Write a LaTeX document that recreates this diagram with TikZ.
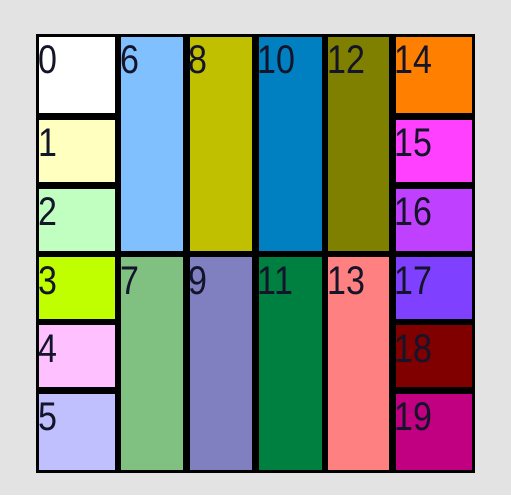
\documentclass[tikz,border=0pt]{standalone}
\usepackage{fontspec}
\setmainfont{Liberation Sans}
\definecolor{bg}{HTML}{E3E3E3}
\definecolor{k0}{HTML}{FFFFFF}
\definecolor{k1}{HTML}{FFFFC0}
\definecolor{k2}{HTML}{C0FFC0}
\definecolor{k3}{HTML}{C0FF00}
\definecolor{k4}{HTML}{FFC0FF}
\definecolor{k5}{HTML}{C0C0FF}
\definecolor{k6}{HTML}{80C0FF}
\definecolor{k7}{HTML}{80C080}
\definecolor{k8}{HTML}{C0C000}
\definecolor{k9}{HTML}{8080C0}
\definecolor{k10}{HTML}{0080C0}
\definecolor{k11}{HTML}{008040}
\definecolor{k12}{HTML}{808000}
\definecolor{k13}{HTML}{FF8080}
\definecolor{k14}{HTML}{FF8000}
\definecolor{k15}{HTML}{FF40FF}
\definecolor{k16}{HTML}{C040FF}
\definecolor{k17}{HTML}{8040FF}
\definecolor{k18}{HTML}{800000}
\definecolor{k19}{HTML}{C00080}
\definecolor{txt}{HTML}{14142A}
\tikzset{
  cellbox/.style={draw=black, line width=3.3pt},
  lbl/.style={anchor=base west, inner sep=0pt, text=txt,
    font=\fontsize{40}{40}\selectfont},
}
\newcommand\mycell[6]{%
  \path[cellbox, fill=k#6] ({#1+1.65},{#2+1.65}) rectangle ({#3-1.65},{#4-1.65});
  \node[lbl] (c#6) at ({#1+2},{#2+40}) {\scalebox{0.85}[1]{#6}};
}
\begin{document}
\begin{tikzpicture}[x=1pt,y=-1pt]
\useasboundingbox (0,0) rectangle (511,495);
\fill[bg] (0,0) rectangle (511,495);
% column A
\mycell{36}{34}{118}{116.5}{}{0}
\mycell{36}{116.5}{118}{185.5}{}{1}
\mycell{36}{185.5}{118}{254}{}{2}
\mycell{36}{254}{118}{322}{}{3}
\mycell{36}{322}{118}{390.5}{}{4}
\mycell{36}{390.5}{118}{473.3}{}{5}
% tall columns
\mycell{118}{34}{186.5}{254}{}{6}
\mycell{118}{254}{186.5}{473.3}{}{7}
\mycell{186.5}{34}{255.5}{254}{}{8}
\mycell{186.5}{254}{255.5}{473.3}{}{9}
\mycell{255.5}{34}{325}{254}{}{10}
\mycell{255.5}{254}{325}{473.3}{}{11}
\mycell{325}{34}{392.5}{254}{}{12}
\mycell{325}{254}{392.5}{473.3}{}{13}
% column F
\mycell{392.5}{34}{475}{116.5}{}{14}
\mycell{392.5}{116.5}{475}{185.5}{}{15}
\mycell{392.5}{185.5}{475}{254}{}{16}
\mycell{392.5}{254}{475}{322}{}{17}
\mycell{392.5}{322}{475}{390.5}{}{18}
\mycell{392.5}{390.5}{475}{473.3}{}{19}
\end{tikzpicture}
\end{document}
